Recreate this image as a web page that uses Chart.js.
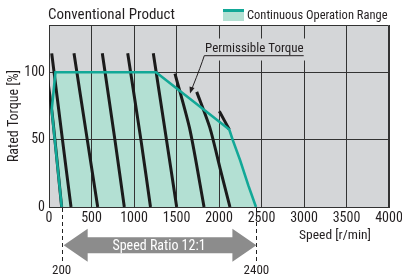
<!DOCTYPE html>
<html>
<head>
<meta charset="utf-8">
<script src="https://cdn.jsdelivr.net/npm/chart.js@4.4.0/dist/chart.umd.min.js"></script>
<style>
    html, body { margin: 0; padding: 0; background: #fff; }
    #wrap { position: relative; width: 402px; height: 280px; }
    #plotBg { position: absolute; background: #d4d6d8; }
    canvas { position: absolute; left: 0; top: 0; }
</style>
</head>
<body>
<div id="wrap">
    <div id="plotBg"></div>
    <canvas id="meuChart" width="402" height="280"></canvas>
</div>
<script>
const FONT = "'Liberation Sans Narrow', 'Arial Narrow', 'Roboto Condensed', sans-serif";

const torqueTicks = [0, 50, 100];

// continuous operation range (outline + fill)
const rangeSpeed  = [149, 32, 76, 1259, 2121, 2160, 2247, 2345, 2435];
const rangeTorque = [0, 72, 100, 100, 57.5, 50, 35, 16, 0];

// speed-torque characteristic lines
const curveSpeed = [
    [-60, 32, 149],
    [32, 159, 259],
    [294, 451, 573],
    [627, 776, 886],
    [926, 1082, 1194],
    [1227, 1365, 1502],
    [1482, 1659, 1824],
    [1738, 1894, 2012, 2129],
    [2004, 2121],
];
const curveTorque = [
    [114, 72, 0],
    [114, 49.6, 0],
    [114, 49.6, 0],
    [114, 49.6, 0],
    [114, 49.6, 0],
    [114, 57, 0],
    [99, 57, 0],
    [85.4, 58.5, 28.9, 0],
    [71, 57.5],
];

// speed ratio markers
const ratioSpeed = [149, 2440];
const ratioLabels = ["200", "2400"];

const TEAL = "#12a897";
const TEAL_FILL = "#b3e0d3";
const INK = "#231f20";

const toPoints = (xs, ys) => xs.map((x, i) => ({ x: x, y: ys[i] }));

const datasets = [
    {
        label: "Continuous Operation Range",
        data: toPoints(rangeSpeed, rangeTorque),
        borderColor: TEAL,
        borderWidth: 2.6,
        backgroundColor: TEAL_FILL,
        fill: "shape",
        tension: 0,
        pointRadius: 0,
        borderJoinStyle: "miter",
        clip: 0,
    },
];
curveSpeed.forEach((xs, i) => {
    datasets.push({
        label: "curve" + i,
        data: toPoints(xs, curveTorque[i]),
        borderColor: "#1b1b1b",
        borderWidth: 3,
        fill: false,
        tension: 0.25,
        pointRadius: 0,
        clip: 0,
    });
});

const extras = {
    id: "extras",
    afterLayout(chart) {
        const a = chart.chartArea;
        const bg = document.getElementById("plotBg");
        bg.style.left = a.left + "px";
        bg.style.top = a.top + "px";
        bg.style.width = (a.right - a.left) + "px";
        bg.style.height = (a.bottom - a.top) + "px";
    },
    afterDraw(chart) {
        const ctx = chart.ctx;
        const a = chart.chartArea;
        const xs = chart.scales.x;
        const ys = chart.scales.y;
        ctx.save();

        // plot frame (top / right)
        ctx.strokeStyle = "#333";
        ctx.lineWidth = 1;
        ctx.beginPath();
        ctx.moveTo(a.left, a.top + 0.5);
        ctx.lineTo(a.right - 0.5, a.top + 0.5);
        ctx.lineTo(a.right - 0.5, a.bottom);
        ctx.stroke();

        // title
        ctx.fillStyle = INK;
        ctx.textBaseline = "alphabetic";
        ctx.textAlign = "left";
        ctx.font = "15px " + FONT;
        ctx.fillText("Conventional Product", 48, 19);

        // legend
        ctx.fillStyle = TEAL_FILL;
        ctx.fillRect(223, 9, 21, 12);
        ctx.fillStyle = TEAL;
        ctx.fillRect(223, 9, 21, 3);
        ctx.fillStyle = INK;
        ctx.font = "12.5px " + FONT;
        ctx.fillText("Continuous Operation Range", 247, 19);

        // permissible torque label
        const lx = xs.getPixelForValue(2416);
        const ly = ys.getPixelForValue(118.3);
        ctx.font = "13px " + FONT;
        const tw = ctx.measureText("Permissible Torque").width;
        ctx.fillStyle = "#d4d6d8";
        ctx.fillRect(lx - tw / 2 - 6, ly - 9, tw + 14, 22);
        ctx.fillStyle = INK;
        ctx.textAlign = "center";
        ctx.fillText("Permissible Torque", lx, ly + 4.5);
        const uy = ys.getPixelForValue(112.6);
        const sx = xs.getPixelForValue(1815);
        ctx.strokeStyle = INK;
        ctx.lineWidth = 1;
        ctx.beginPath();
        ctx.moveTo(lx + tw / 2, uy + 0.5);
        ctx.lineTo(sx + 1, uy + 0.5);
        const tx = xs.getPixelForValue(1659);
        const ty = ys.getPixelForValue(84.2);
        ctx.quadraticCurveTo(sx - 2, uy + 10, tx + 2, ty - 5);
        ctx.stroke();
        // arrow head
        ctx.fillStyle = INK;
        ctx.beginPath();
        ctx.moveTo(tx, ty);
        ctx.lineTo(tx - 0.5, ty - 7);
        ctx.lineTo(tx + 4.5, ty - 5.5);
        ctx.closePath();
        ctx.fill();

        // x axis title
        ctx.textAlign = "center";
        ctx.font = "13.5px " + FONT;
        ctx.fillText("Speed [r/min]", 335, a.bottom + 32);

        // speed ratio markers
        const p0 = xs.getPixelForValue(ratioSpeed[0]);
        const p1 = xs.getPixelForValue(ratioSpeed[1]);
        ctx.setLineDash([4, 3]);
        ctx.strokeStyle = "#222";
        ctx.lineWidth = 1;
        [p0, p1].forEach(p => {
            ctx.beginPath();
            ctx.moveTo(Math.round(p) + 0.5, a.bottom + 1);
            ctx.lineTo(Math.round(p) + 0.5, a.bottom + 57);
            ctx.stroke();
        });
        ctx.setLineDash([]);
        ctx.font = "13px " + FONT;
        ctx.fillStyle = INK;
        ctx.fillText(ratioLabels[0], p0, a.bottom + 67);
        ctx.fillText(ratioLabels[1], p1, a.bottom + 67);

        // double arrow
        const cy = a.bottom + 38.3;
        const head = 24;
        ctx.fillStyle = "#8c8c8c";
        ctx.beginPath();
        ctx.moveTo(p0 + 2, cy);
        ctx.lineTo(p0 + 2 + head, cy - 16.5);
        ctx.lineTo(p0 + 2 + head, cy - 8);
        ctx.lineTo(p1 - head, cy - 8);
        ctx.lineTo(p1 - head, cy - 16.5);
        ctx.lineTo(p1, cy);
        ctx.lineTo(p1 - head, cy + 16.5);
        ctx.lineTo(p1 - head, cy + 8);
        ctx.lineTo(p0 + 2 + head, cy + 8);
        ctx.lineTo(p0 + 2 + head, cy + 16.5);
        ctx.closePath();
        ctx.fill();
        ctx.fillStyle = "#fff";
        ctx.font = "14px " + FONT;
        ctx.fillText("Speed Ratio 12:1", (p0 + p1) / 2, cy + 5);

        ctx.restore();
    },
};

const meuChart = document.querySelector("#meuChart");

new Chart(meuChart, {
    type: "line",
    data: { datasets: datasets },
    options: {
        responsive: false,
        animation: false,
        devicePixelRatio: 1,
        layout: { padding: { top: 25, right: 13, left: 0, bottom: 0 } },
        plugins: {
            legend: { display: false },
            tooltip: { enabled: false },
            filler: { drawTime: "beforeDraw" },
        },
        scales: {
            x: {
                type: "linear",
                min: 0,
                max: 4000,
                ticks: {
                    stepSize: 500,
                    color: INK,
                    font: { family: FONT, size: 14 },
                    padding: 3,
                    maxRotation: 0,
                    callback: v => String(v),
                },
                grid: { color: "#333", lineWidth: 1, drawTicks: false },
                border: { color: "#333" },
                afterFit(scale) {
                    scale.height = 73;
                    scale.paddingLeft = 0;
                    scale.paddingRight = 0;
                },
            },
            y: {
                type: "linear",
                min: 0,
                max: 135,
                afterBuildTicks(scale) {
                    scale.ticks = torqueTicks.map(v => ({ value: v }));
                },
                ticks: { color: INK, font: { family: FONT, size: 14 }, padding: 4 },
                grid: { color: "#333", lineWidth: 1, drawTicks: false },
                border: { color: "#333" },
                title: {
                    display: true,
                    text: "Rated Torque [%]",
                    color: INK,
                    font: { family: FONT, size: 14 },
                    padding: { top: 6, bottom: 0 },
                },
                afterFit(scale) {
                    scale.width = 49;
                },
            },
        },
    },
    plugins: [extras],
});
</script>
</body>
</html>
